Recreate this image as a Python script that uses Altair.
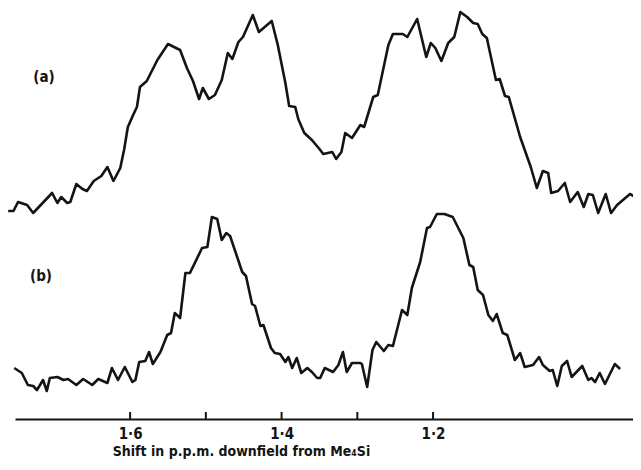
import altair as alt
import pandas as pd

# Trace (a): chemical shift (p.p.m.) and recorder signal (arbitrary units)
a_ppm = [1.761, 1.754, 1.748, 1.736, 1.728, 1.703, 1.696, 1.691, 1.683, 1.679,
         1.671, 1.663, 1.657, 1.648, 1.638, 1.630, 1.622, 1.613, 1.608, 1.603,
         1.596, 1.591, 1.587, 1.578, 1.564, 1.550, 1.534, 1.525, 1.517, 1.509,
         1.504, 1.496, 1.488, 1.479, 1.471, 1.465, 1.457, 1.451, 1.438, 1.430,
         1.413, 1.405, 1.395, 1.390, 1.382, 1.378, 1.370, 1.360, 1.350, 1.345,
         1.333, 1.328, 1.321, 1.316, 1.307, 1.296, 1.291, 1.279, 1.273, 1.266,
         1.259, 1.253, 1.240, 1.234, 1.221, 1.209, 1.203, 1.197, 1.189, 1.180,
         1.172, 1.164, 1.155, 1.147, 1.141, 1.135, 1.129, 1.117, 1.112, 1.105,
         1.100, 1.085, 1.071, 1.063, 1.055, 1.048, 1.044, 1.035, 1.026, 1.019,
         1.009, 1.001, 0.995, 0.989, 0.982, 0.972, 0.965, 0.957, 0.940, 0.933,
         0.927]
a_sig = [208, 208, 217, 214, 206, 226, 216, 222, 216, 217,
         235, 230, 228, 238, 243, 252, 238, 251, 269, 292,
         304, 312, 332, 338, 359, 375, 369, 351, 338, 320,
         331, 320, 324, 339, 366, 360, 377, 382, 404, 387,
         398, 374, 336, 313, 312, 300, 286, 279, 270, 265,
         267, 260, 267, 286, 281, 294, 292, 322, 324, 349,
         374, 385, 385, 382, 400, 362, 376, 371, 358, 376,
         382, 407, 402, 396, 395, 385, 381, 339, 340, 323,
         322, 282, 252, 231, 248, 246, 226, 228, 236, 217,
         227, 212, 225, 224, 206, 225, 206, 214, 225, 222,
         216]

# Trace (b)
b_ppm = [1.753, 1.743, 1.735, 1.728, 1.723, 1.715, 1.710, 1.706, 1.696, 1.688,
         1.682, 1.671, 1.662, 1.650, 1.642, 1.630, 1.624, 1.616, 1.607, 1.597,
         1.593, 1.588, 1.580, 1.575, 1.570, 1.560, 1.551, 1.546, 1.541, 1.534,
         1.527, 1.521, 1.505, 1.498, 1.492, 1.485, 1.479, 1.473, 1.468, 1.452,
         1.447, 1.439, 1.435, 1.428, 1.424, 1.414, 1.409, 1.402, 1.395, 1.391,
         1.386, 1.380, 1.374, 1.366, 1.360, 1.353, 1.349, 1.343, 1.332, 1.325,
         1.319, 1.314, 1.307, 1.296, 1.294, 1.287, 1.280, 1.275, 1.265, 1.259,
         1.253, 1.241, 1.234, 1.228, 1.217, 1.208, 1.204, 1.195, 1.185, 1.174,
         1.160, 1.152, 1.147, 1.141, 1.134, 1.127, 1.121, 1.116, 1.108, 1.102,
         1.092, 1.085, 1.079, 1.068, 1.060, 1.055, 1.046, 1.042, 1.036, 1.030,
         1.023, 1.017, 1.003, 0.995, 0.991, 0.986, 0.980, 0.973, 0.960, 0.953]
b_sig = [51, 46, 34, 33, 29, 39, 28, 41, 42, 39,
         40, 34, 40, 34, 40, 36, 51, 39, 52, 37,
         39, 57, 58, 67, 55, 67, 84, 86, 106, 101,
         146, 146, 171, 172, 202, 200, 179, 186, 183, 147,
         143, 115, 113, 93, 94, 71, 66, 65, 57, 62,
         51, 61, 46, 51, 47, 41, 41, 51, 47, 54,
         67, 47, 56, 56, 55, 32, 69, 77, 68, 74,
         73, 109, 104, 131, 157, 191, 192, 205, 205, 202,
         181, 154, 152, 129, 124, 104, 98, 105, 86, 84,
         59, 66, 52, 54, 62, 54, 48, 49, 33, 53,
         58, 42, 53, 39, 41, 37, 46, 35, 55, 50]

tick_ppm = [1.6, 1.5, 1.4, 1.3, 1.2]
label_ppm = [1.6, 1.4, 1.2]

FONT = "'DejaVu Sans Condensed', 'DejaVu Sans', sans-serif"
INK = "#141414"

df = pd.concat([
    pd.DataFrame({"ppm": a_ppm, "signal": a_sig, "trace": "a", "idx": range(len(a_ppm))}),
    pd.DataFrame({"ppm": b_ppm, "signal": b_sig, "trace": "b", "idx": range(len(b_ppm))}),
])

xscale = alt.Scale(domain=[0.936, 1.752], reverse=True, zero=False, nice=False)
yscale = alt.Scale(domain=[0, 411], zero=False, nice=False)

lines = alt.Chart(df).mark_line(color=INK, strokeWidth=2.6, clip=False,
                                strokeJoin="round").encode(
    x=alt.X("ppm:Q", scale=xscale,
            axis=alt.Axis(values=label_ppm,
                          labelExpr="replace(format(datum.value, '.1f'), '.', '·')",
                          ticks=False, tickSize=0, grid=False,
                          domainColor=INK, domainWidth=2,
                          labelFont=FONT, labelFontSize=15, labelFontWeight="bold",
                          labelColor=INK, labelPadding=7,
                          title="Shift in p.p.m. downfield from Me₄Si",
                          titleFont=FONT, titleFontSize=14, titleFontWeight="bold",
                          titleColor=INK, titleX=226, titleY=25,
                          titleAlign="center", titleBaseline="top")),
    y=alt.Y("signal:Q", scale=yscale, axis=None),
    detail="trace:N",
    order="idx:Q",
)

ticks = alt.Chart(pd.DataFrame({"ppm": tick_ppm})).mark_rule(
    color=INK, strokeWidth=2).encode(
    x=alt.X("ppm:Q", scale=xscale),
    y=alt.value(411), y2=alt.value(404),
)

lab_a = alt.Chart(pd.DataFrame({"t": ["(a)"]})).mark_text(
    font=FONT, fontSize=15, fontWeight="bold", color=INK).encode(
    text="t:N", x=alt.value(29), y=alt.value(69))
lab_b = alt.Chart(pd.DataFrame({"t": ["(b)"]})).mark_text(
    font=FONT, fontSize=15, fontWeight="bold", color=INK).encode(
    text="t:N", x=alt.value(26), y=alt.value(268))

chart = alt.layer(lines, ticks, lab_a, lab_b).properties(
    width=618, height=411,
    autosize=alt.AutoSizeParams(type="none"),
    padding={"left": 7, "top": 0, "right": 0, "bottom": 43},
    background="white",
).configure_view(stroke=None)

chart.save("out.html", embed_options={"renderer": "svg", "actions": False})
